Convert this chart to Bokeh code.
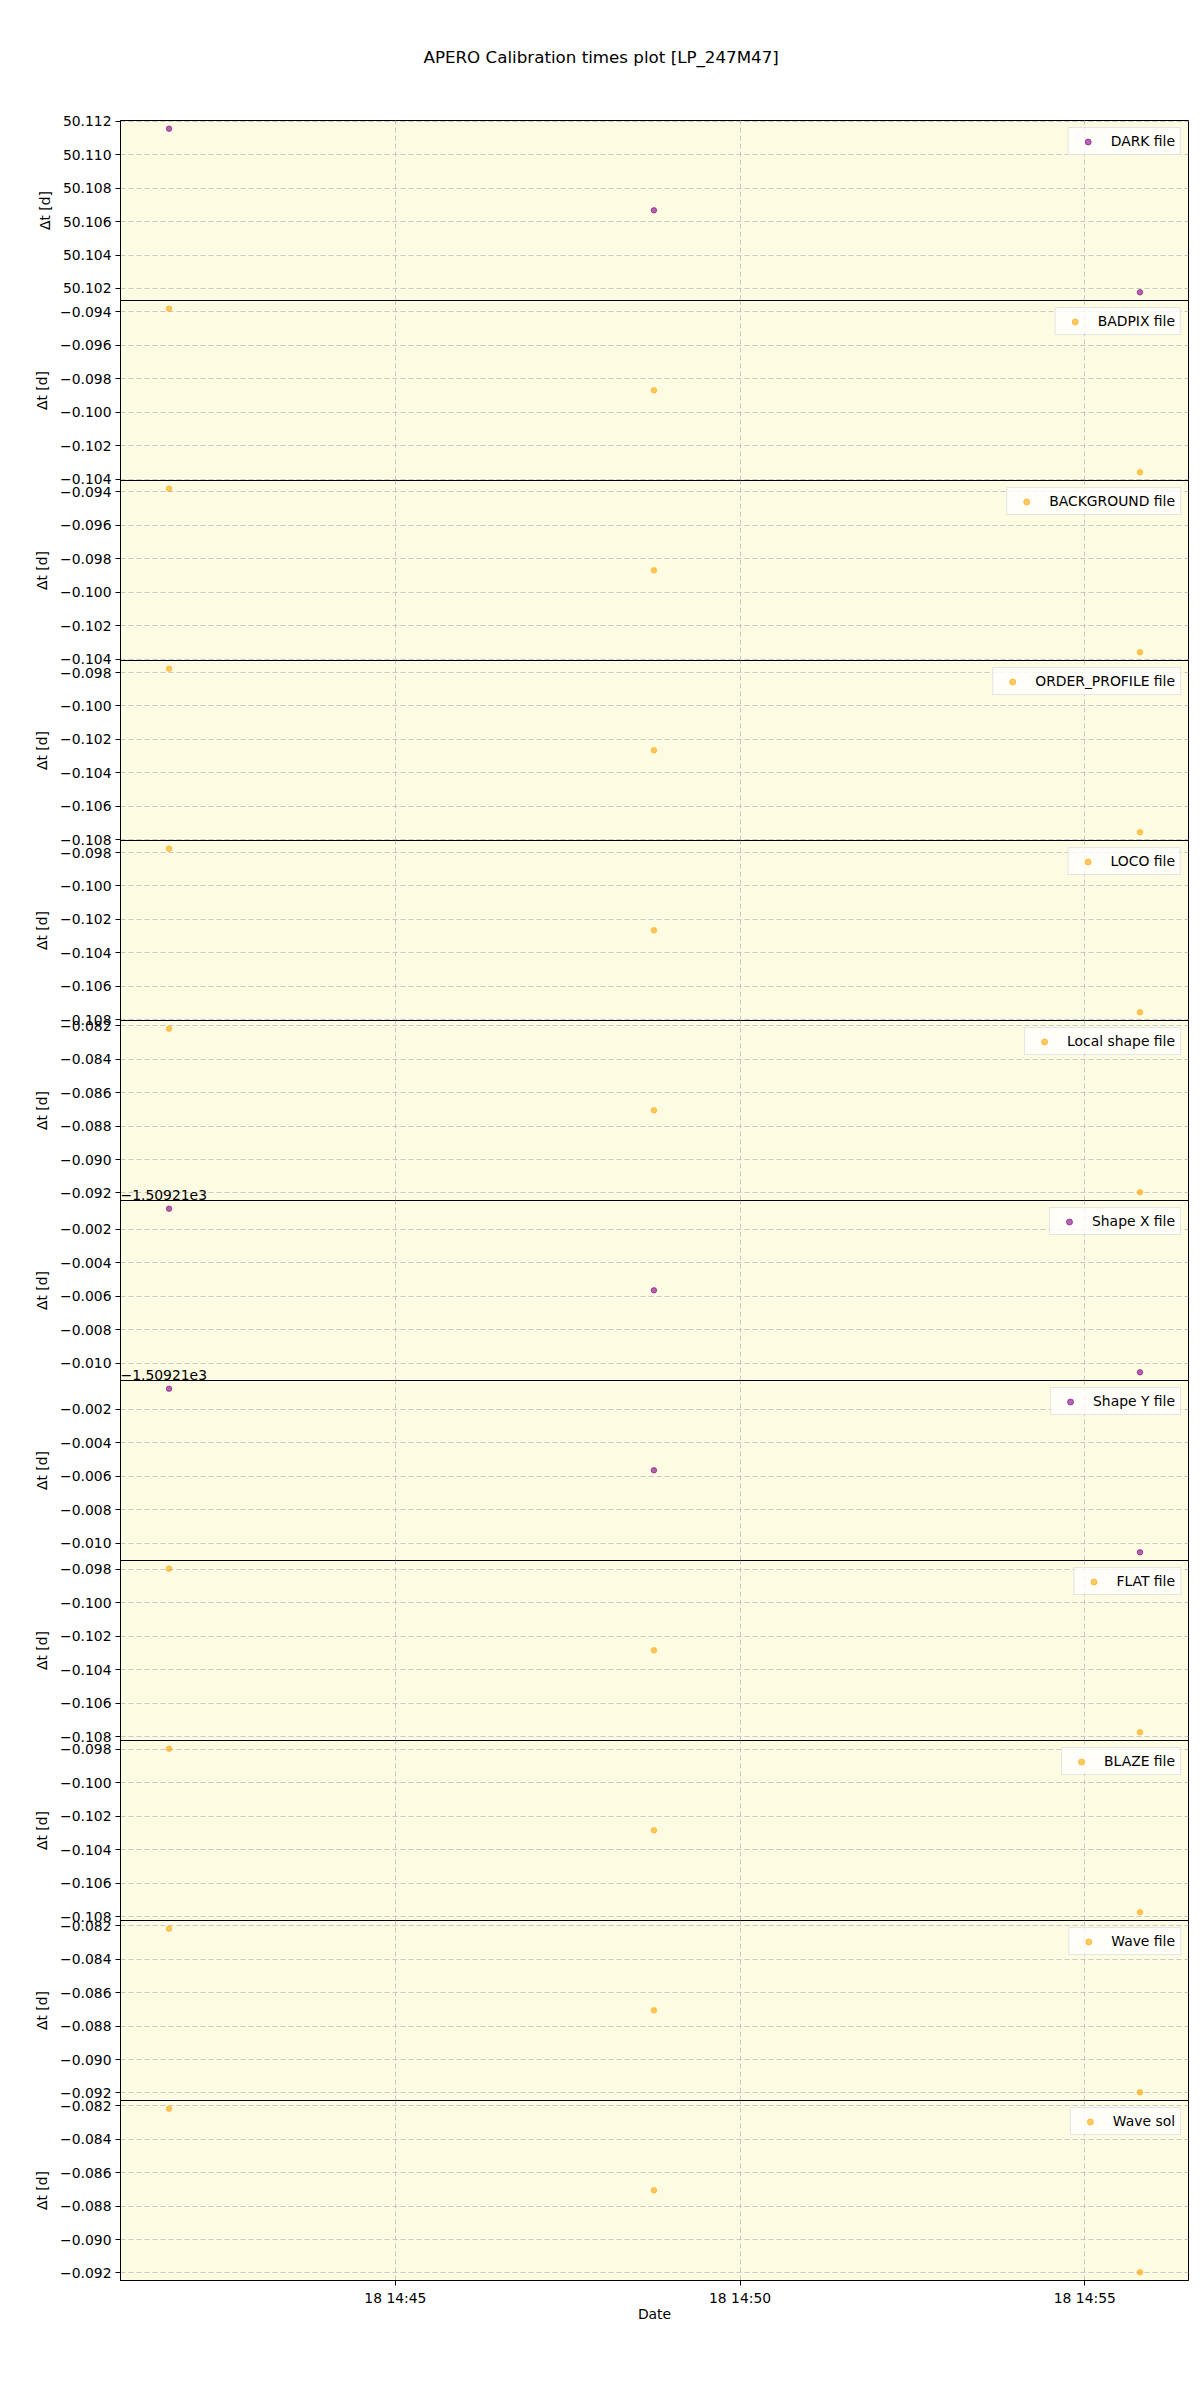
from datetime import datetime, timezone
from bokeh.plotting import figure
from bokeh.layouts import column
from bokeh.models import (Range1d, FixedTicker, CustomJSTickFormatter,
                          DatetimeTickFormatter, Label, Title)
from bokeh.embed import file_html
from bokeh.resources import INLINE

# ---------------- data ----------------
title_text = "APERO Calibration times plot [LP_247M47]"
obs_times = ["2023-08-18 14:41:43", "2023-08-18 14:48:45", "2023-08-18 14:55:48"]
x_tick_times = ["2023-08-18 14:45:00", "2023-08-18 14:50:00", "2023-08-18 14:55:00"]

panel_labels = ["DARK file", "BADPIX file", "BACKGROUND file", "ORDER_PROFILE file",
                "LOCO file", "Local shape file", "Shape X file", "Shape Y file",
                "FLAT file", "BLAZE file", "Wave file", "Wave sol"]
panel_colors = ["purple", "orange", "orange", "orange", "orange", "orange",
                "purple", "purple", "orange", "orange", "orange", "orange"]

dark = [50.11155, 50.10667, 50.10177]
badpix = [-0.09381, -0.09869, -0.10359]
background = [-0.09381, -0.09869, -0.10359]
order_profile = [-0.09777, -0.10265, -0.10755]
loco = [-0.09777, -0.10265, -0.10755]
local_shape = [-0.08218, -0.08706, -0.09196]
shape_x = [-1509.21076, -1509.21564, -1509.22054]
shape_y = [-1509.21076, -1509.21564, -1509.22054]
flat = [-0.09797, -0.10285, -0.10775]
blaze = [-0.09797, -0.10285, -0.10775]
wave_file = [-0.08218, -0.08706, -0.09196]
wave_sol = [-0.08218, -0.08706, -0.09196]

dark_ticks = [50.102, 50.104, 50.106, 50.108, 50.110, 50.112]
badpix_ticks = [-0.104, -0.102, -0.100, -0.098, -0.096, -0.094]
order_ticks = [-0.108, -0.106, -0.104, -0.102, -0.100, -0.098]
local_ticks = [-0.092, -0.090, -0.088, -0.086, -0.084, -0.082]
shape_ticks = [-1509.220, -1509.218, -1509.216, -1509.214, -1509.212]
shape_offset = -1509.21
shape_offset_text = "\u22121.50921e3"

series = [dark, badpix, background, order_profile, loco, local_shape,
          shape_x, shape_y, flat, blaze, wave_file, wave_sol]
ticks = [dark_ticks, badpix_ticks, badpix_ticks, order_ticks, order_ticks, local_ticks,
         shape_ticks, shape_ticks, order_ticks, order_ticks, local_ticks, local_ticks]
offsets = [0, 0, 0, 0, 0, 0, shape_offset, shape_offset, 0, 0, 0, 0]
offset_texts = ["", "", "", "", "", "", shape_offset_text, shape_offset_text, "", "", "", ""]

# ---------------- helpers ----------------
def to_ms(s):
    d = datetime.strptime(s, "%Y-%m-%d %H:%M:%S").replace(tzinfo=timezone.utc)
    return d.timestamp() * 1000.0

xs = [to_ms(s) for s in obs_times]
xticks = [to_ms(s) for s in x_tick_times]
xspan = max(xs) - min(xs)
x_range = Range1d(min(xs) - 0.05 * xspan, max(xs) + 0.05 * xspan)

FONT = "DejaVu Sans"
FS = "13.9px"
BG = "#fdfbe1"
TXT = "black"
FRAME_W, FRAME_H = 1068, 180
LEFT, TOP = 120, 120
PAD = 12  # transparent overlap border between stacked panels

figs = []
n = len(series)
for i in range(n):
    ys = series[i]
    span = max(ys) - min(ys)
    yr = Range1d(min(ys) - 0.05 * span, max(ys) + 0.05 * span)
    last = (i == n - 1)
    first = (i == 0)
    p = figure(x_axis_type="datetime", x_range=x_range, y_range=yr,
               frame_width=FRAME_W, frame_height=FRAME_H,
               output_backend="svg", toolbar_location=None,
               x_axis_location="below" if last else None,
               min_border_left=LEFT, min_border_right=10,
               min_border_top=TOP if first else PAD,
               min_border_bottom=60 if last else PAD,
               margin=(0 if first else -2 * PAD, 0, 0, 0),
               background_fill_color=BG, background_fill_alpha=0,
               border_fill_color="white", border_fill_alpha=0)
    p.outline_line_color = "black"
    p.outline_line_width = 1
    p.outline_line_alpha = 1

    p.scatter(xs, ys, size=5.5, color=panel_colors[i], alpha=0.6,
              legend_label=panel_labels[i])

    # y axis
    ax = p.yaxis[0]
    ax.ticker = FixedTicker(ticks=ticks[i])
    ax.formatter = CustomJSTickFormatter(args=dict(off=offsets[i]), code="""
        const v = tick - off;
        return v.toFixed(3).replace('-', '\\u2212');
    """)
    ax.axis_label = "\u0394t [d]"
    ax.axis_label_text_font = FONT
    ax.axis_label_text_font_size = FS
    ax.axis_label_text_font_style = "normal"
    ax.axis_label_text_color = TXT
    ax.axis_label_standoff = 7
    ax.major_label_text_font = FONT
    ax.major_label_text_font_size = FS
    ax.major_label_text_color = TXT
    ax.major_tick_out = 5
    ax.major_tick_in = 0
    ax.minor_tick_out = 0
    ax.minor_tick_in = 0
    ax.major_label_standoff = 4
    ax.axis_line_color = "black"
    ax.major_tick_line_color = "black"

    # grids
    p.xgrid.ticker = FixedTicker(ticks=xticks)
    for g in (p.xgrid[0], p.ygrid[0]):
        g.grid_line_color = "#c8c8c8"
        g.grid_line_dash = "5 3"
        g.grid_line_width = 1

    if last:
        xa = p.xaxis[0]
        xa.ticker = FixedTicker(ticks=xticks)
        fmt = "%d %H:%M"
        xa.formatter = DatetimeTickFormatter(seconds=fmt, minsec=fmt, minutes=fmt,
                                             hourmin=fmt, hours=fmt)
        xa.axis_label = "Date"
        xa.axis_label_text_font = FONT
        xa.axis_label_text_font_size = FS
        xa.axis_label_text_font_style = "normal"
        xa.axis_label_text_color = TXT
        xa.axis_label_standoff = -3
        xa.major_label_text_font = FONT
        xa.major_label_text_font_size = FS
        xa.major_label_text_color = TXT
        xa.major_tick_out = 5
        xa.major_tick_in = 0
        xa.minor_tick_out = 0
        xa.minor_tick_in = 0
        xa.major_label_standoff = 4
        xa.axis_line_color = "black"
        xa.major_tick_line_color = "black"

    # legend
    lg = p.legend[0]
    lg.location = "top_right"
    lg.margin = 7
    lg.padding = 5
    lg.spacing = 0
    lg.glyph_width = 28
    lg.glyph_height = 15
    lg.label_height = 15
    lg.label_standoff = 9
    lg.label_text_font = FONT
    lg.label_text_font_size = FS
    lg.label_text_color = TXT
    lg.border_line_color = "#cccccc"
    lg.border_line_width = 1
    lg.background_fill_color = "white"
    lg.background_fill_alpha = 0.8

    if first:
        p.title.text = title_text
        p.title.align = "left"
        p.title.offset = 303
        p.title.text_font = FONT
        p.title.text_font_size = "16.7px"
        p.title.text_font_style = "normal"
        p.title.text_color = TXT
        p.title.vertical_align = "top"
        p.title.standoff = 92
        # thin spacer between the title and the first frame
        p.add_layout(Title(text=" ", text_font_size="1px", standoff=3), "above")

    figs.append(p)

# offset texts (drawn just above the panel, i.e. at bottom of the previous one)
for i in range(1, n):
    if offset_texts[i]:
        prev = figs[i - 1]
        prev.add_layout(Label(x=x_range.start, y=prev.y_range.start,
                              x_units="data", y_units="data", y_offset=1,
                              text=offset_texts[i], text_align="left",
                              text_baseline="bottom", text_font=FONT,
                              text_font_size=FS, text_color=TXT))

bg_styles = {
    "background-image": f"linear-gradient({BG}, {BG})",
    "background-size": f"{FRAME_W}px {FRAME_H * n}px",
    "background-position": f"{LEFT}px {TOP}px",
    "background-repeat": "no-repeat",
}
layout = column(*figs, spacing=0, styles=bg_styles)
open("out.html", "w").write(file_html(layout, INLINE))
